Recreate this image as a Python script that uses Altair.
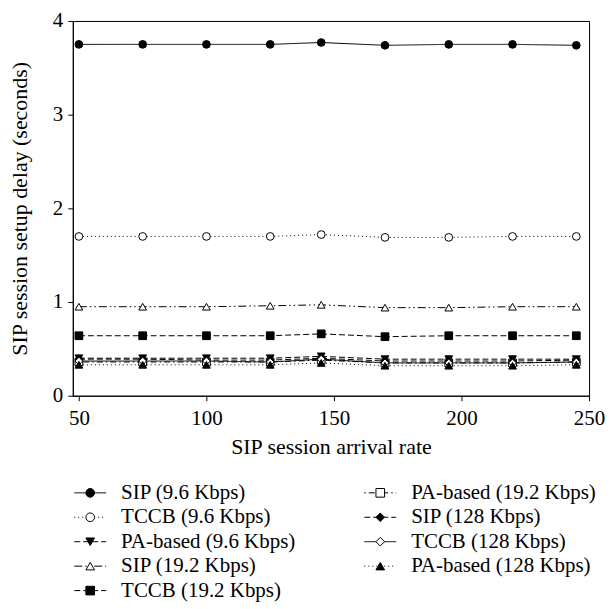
import altair as alt
import pandas as pd

x_rates = [50, 75, 100, 125, 145, 170, 195, 220, 245]

series_names = [
    "SIP (9.6 Kbps)", "TCCB (9.6 Kbps)", "PA-based (9.6 Kbps)",
    "SIP (19.2 Kbps)", "TCCB (19.2 Kbps)", "PA-based (19.2 Kbps)",
    "SIP (128 Kbps)", "TCCB (128 Kbps)", "PA-based (128 Kbps)",
]

sip_96 = [3.75, 3.75, 3.75, 3.75, 3.77, 3.74, 3.75, 3.75, 3.74]
tccb_96 = [1.70, 1.70, 1.70, 1.70, 1.72, 1.69, 1.69, 1.70, 1.70]
pa_96 = [0.40, 0.40, 0.40, 0.40, 0.42, 0.39, 0.39, 0.39, 0.39]
sip_192 = [0.95, 0.95, 0.95, 0.96, 0.97, 0.94, 0.94, 0.95, 0.95]
tccb_192 = [0.64, 0.64, 0.64, 0.64, 0.66, 0.63, 0.64, 0.64, 0.64]
pa_192 = [0.36, 0.36, 0.36, 0.36, 0.38, 0.35, 0.35, 0.35, 0.36]
sip_128 = [0.39, 0.39, 0.38, 0.38, 0.40, 0.37, 0.37, 0.37, 0.38]
tccb_128 = [0.37, 0.37, 0.37, 0.36, 0.39, 0.35, 0.35, 0.35, 0.36]
pa_128 = [0.33, 0.33, 0.33, 0.33, 0.35, 0.32, 0.32, 0.32, 0.33]

all_values = [sip_96, tccb_96, pa_96, sip_192, tccb_192, pa_192, sip_128, tccb_128, pa_128]

# styles
dashes = [
    [1, 0], [1, 3], [6, 3],
    [8, 3, 1.5, 3, 1.5, 3], [6, 3], [1.5, 3, 6, 3],
    [6, 3], [1, 0], [1, 3],
]
shapes = [
    "circle", "circle", "triangle-down",
    "triangle-up", "square", "square",
    "diamond", "diamond", "triangle-up",
]
fills = [
    "black", "white", "black",
    "white", "black", "white",
    "black", "white", "black",
]

rows = []
for name, vals in zip(series_names, all_values):
    for xv, yv in zip(x_rates, vals):
        rows.append({"series": name, "rate": xv, "delay": yv})
df = pd.DataFrame(rows)

FONT = "Liberation Serif"
LABEL_SIZE = 21
TITLE_SIZE = 22

dash_scale = alt.Scale(domain=series_names, range=dashes)
shape_scale = alt.Scale(domain=series_names, range=shapes)
fill_scale = alt.Scale(domain=series_names, range=fills)

common_axis = dict(grid=False, tickSize=5, labelFontSize=LABEL_SIZE, titleFontSize=TITLE_SIZE,
                   labelFont=FONT, titleFont=FONT, domainColor="black", tickColor="black",
                   labelColor="black", titleColor="black", titleFontWeight="normal",
                   format="d")

xenc = alt.X("rate:Q", scale=alt.Scale(domain=[47.6, 250], nice=False, zero=False),
             axis=alt.Axis(values=[50, 100, 150, 200, 250], title="SIP session arrival rate",
                           labelPadding=7, titlePadding=8, labelFlush=False, **common_axis))
yenc = alt.Y("delay:Q", scale=alt.Scale(domain=[0, 4], nice=False),
             axis=alt.Axis(values=[0, 1, 2, 3, 4], title="SIP session setup delay (seconds)",
                           labelPadding=5, titlePadding=21, **common_axis))

lines = alt.Chart(df).mark_line(color="black", strokeWidth=1).encode(
    x=xenc, y=yenc,
    strokeDash=alt.StrokeDash("series:N", scale=dash_scale, legend=None),
)
points = alt.Chart(df).mark_point(filled=True, stroke="black", strokeWidth=1, size=60, opacity=1).encode(
    x="rate:Q", y="delay:Q",
    shape=alt.Shape("series:N", scale=shape_scale, legend=None),
    fill=alt.Fill("series:N", scale=fill_scale, legend=None),
)
main = alt.layer(lines, points).properties(
    width=518, height=376,
    view=alt.ViewBackground(stroke="black", strokeWidth=1),
)

# legend, laid out column-major (5 rows then 4)
leg = pd.DataFrame({
    "series": series_names,
    "col": [i // 5 for i in range(len(series_names))],
    "row": [i % 5 for i in range(len(series_names))],
})
lx = alt.X("col:Q", scale=alt.Scale(domain=[-0.0601, 1.7199], nice=False, zero=False), axis=None)
ly = alt.Y("row:Q", scale=alt.Scale(domain=[-0.1, 4.1], nice=False, zero=False, reverse=True), axis=None)

leg_lines = alt.Chart(leg).mark_rule(color="black", strokeWidth=1, xOffset=-16, x2Offset=16).encode(
    x=lx, x2="col:Q", y=ly,
    strokeDash=alt.StrokeDash("series:N", scale=dash_scale, legend=None),
)
leg_points = alt.Chart(leg).mark_point(filled=True, stroke="black", strokeWidth=1, size=75, opacity=1).encode(
    x="col:Q", y="row:Q",
    shape=alt.Shape("series:N", scale=shape_scale, legend=None),
    fill=alt.Fill("series:N", scale=fill_scale, legend=None),
)
leg_text = alt.Chart(leg).mark_text(align="left", baseline="middle", dx=31, font=FONT,
                                     fontSize=LABEL_SIZE, color="black").encode(
    x="col:Q", y="row:Q", text="series:N",
)
legend_chart = alt.layer(leg_lines, leg_points, leg_text).properties(
    width=518, height=103,
    view=alt.ViewBackground(stroke="transparent"),
)

chart = alt.vconcat(main, legend_chart, spacing=22).properties(
    padding={"top": 0, "left": 0, "right": 0, "bottom": 5}
).configure(font=FONT)

chart.save("out.html", embed_options={"renderer": "svg", "actions": False})
